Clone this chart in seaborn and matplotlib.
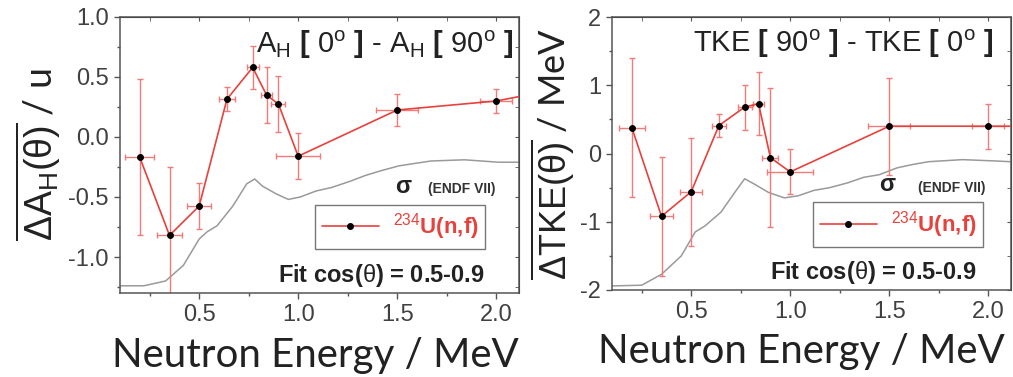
import numpy as np
import pandas as pd
import seaborn as sns
import matplotlib.pyplot as plt
from matplotlib.lines import Line2D
from matplotlib.ticker import MultipleLocator

# --- data ---
# left panel: mass difference A_H[0] - A_H[90]
e_mass = [0.2, 0.35, 0.5, 0.64, 0.77, 0.84, 0.9, 1.0, 1.5, 2.0, 2.25]
e_mass_err = [0.073, 0.065, 0.06, 0.04, 0.03, 0.03, 0.035, 0.11, 0.105, 0.08, 0.1]
d_mass = [-0.17, -0.82, -0.575, 0.315, 0.58, 0.35, 0.275, -0.16, 0.225, 0.30, 0.38]
d_mass_err = [0.65, 0.57, 0.19, 0.10, 0.18, 0.23, 0.23, 0.19, 0.13, 0.10, 0.10]

# right panel: TKE[90] - TKE[0]
e_tke = [0.2, 0.35, 0.5, 0.64, 0.77, 0.84, 0.9, 1.0, 1.5, 2.0, 2.25]
e_tke_err = [0.067, 0.06, 0.055, 0.035, 0.035, 0.03, 0.04, 0.117, 0.105, 0.08, 0.1]
d_tke = [0.38, -0.92, -0.56, 0.41, 0.68, 0.73, -0.06, -0.27, 0.40, 0.40, 0.40]
d_tke_err = [1.02, 0.87, 0.79, 0.17, 0.33, 0.46, 1.02, 0.33, 0.71, 0.33, 0.33]

# ENDF/B-VII cross section shape (arbitrary scale, drawn in each panel's units)
endf_x_l = [0.1, 0.22, 0.33, 0.42, 0.5, 0.54, 0.59, 0.67, 0.74, 0.78, 0.82, 0.89,
            0.95, 1.01, 1.09, 1.17, 1.26, 1.34, 1.42, 1.51, 1.59, 1.67, 1.84, 2.01, 2.12]
endf_y_l = [-1.24, -1.24, -1.2, -1.07, -0.85, -0.79, -0.74, -0.575, -0.39, -0.35, -0.41, -0.475,
            -0.52, -0.5, -0.45, -0.42, -0.37, -0.32, -0.28, -0.24, -0.22, -0.2, -0.19, -0.21, -0.21]
endf_x_r = [0.1, 0.25, 0.35, 0.45, 0.52, 0.57, 0.65, 0.72, 0.77, 0.82, 0.89, 0.97,
            1.04, 1.12, 1.2, 1.29, 1.37, 1.45, 1.54, 1.62, 1.7, 1.87, 2.04, 2.11]
endf_y_r = [-1.94, -1.93, -1.77, -1.5, -1.15, -1.06, -0.86, -0.57, -0.37, -0.45, -0.57, -0.65,
            -0.62, -0.54, -0.5, -0.43, -0.35, -0.31, -0.21, -0.16, -0.12, -0.09, -0.11, -0.12]

line_red = "#e8413c"
err_red = "#f27b78"

sns.set_style("ticks")
plt.rcParams["font.family"] = ["Liberation Sans", "DejaVu Sans"]
plt.rcParams["mathtext.fontset"] = "custom"
plt.rcParams["mathtext.rm"] = "Liberation Sans"
plt.rcParams["mathtext.it"] = "Liberation Sans:italic"
plt.rcParams["mathtext.bf"] = "Liberation Sans:bold"

fig = plt.figure(figsize=(10.13, 3.77), dpi=100)
ax1 = fig.add_axes([120 / 1013, 84 / 377, 399 / 1013, 276 / 377])
ax2 = fig.add_axes([612 / 1013, 87 / 377, 399 / 1013, 273 / 377])


def draw_panel(ax, ex, exerr, dy, dyerr, gx, gy):
    sns.lineplot(x=gx, y=gy, ax=ax, color="#9a9a9a", lw=1.1, sort=False,
                 estimator=None, zorder=1)
    ax.errorbar(ex, dy, xerr=exerr, yerr=dyerr, fmt="none", ecolor=err_red,
                elinewidth=1.0, capsize=2, capthick=1, zorder=2)
    sns.lineplot(x=ex, y=dy, ax=ax, color=line_red, lw=1.2, sort=False,
                 estimator=None, marker="o", markersize=4.2, markerfacecolor="black",
                 markeredgecolor="black", zorder=3)
    ax.set_xlim(0.1, 2.115)
    ax.xaxis.set_major_locator(MultipleLocator(0.5))
    ax.xaxis.set_minor_locator(MultipleLocator(0.25))
    ax.tick_params(which="both", direction="out", color="#555555",
                   labelsize=17, labelcolor="#404040", pad=4)
    ax.tick_params(which="major", length=4, width=1)
    ax.tick_params(which="minor", length=2.5, width=1)
    for sp in ax.spines.values():
        sp.set_color("#555555")
        sp.set_linewidth(1.1)
    sec = ax.secondary_xaxis("top")
    sec.xaxis.set_major_locator(MultipleLocator(0.5))
    sec.xaxis.set_minor_locator(MultipleLocator(0.25))
    sec.tick_params(which="both", direction="in", labeltop=False, color="#555555", length=3)
    secy = ax.secondary_yaxis("right")
    secy.tick_params(which="both", direction="in", labelright=False, color="#555555", length=3)
    return secy


secy1 = draw_panel(ax1, e_mass, e_mass_err, d_mass, d_mass_err, endf_x_l, endf_y_l)
ax1.set_ylim(-1.3, 1.0)
ax1.yaxis.set_major_locator(MultipleLocator(0.5))
ax1.yaxis.set_minor_locator(MultipleLocator(0.25))
ax1.yaxis.set_major_formatter(lambda v, p: f"{v:.1f}")
secy1.yaxis.set_major_locator(MultipleLocator(0.5))
secy1.yaxis.set_minor_locator(MultipleLocator(0.25))

secy2 = draw_panel(ax2, e_tke, e_tke_err, d_tke, d_tke_err, endf_x_r, endf_y_r)
ax2.set_ylim(-2, 2)
ax2.yaxis.set_major_locator(MultipleLocator(1))
ax2.yaxis.set_minor_locator(MultipleLocator(0.5))
ax2.yaxis.set_major_formatter(lambda v, p: f"{v:.0f}")
secy2.yaxis.set_major_locator(MultipleLocator(1))
secy2.yaxis.set_minor_locator(MultipleLocator(0.5))

# axis labels
ax1.set_xlabel("Neutron Energy / MeV", fontsize=29, family="Lato", color="#222222")
ax1.xaxis.set_label_coords(0.489, -0.268)
ax1.xaxis.label.set_verticalalignment("baseline")
ax2.set_xlabel("Neutron Energy / MeV", fontsize=29, family="Lato", color="#222222")
ax2.xaxis.set_label_coords(0.475, -0.267)
ax2.xaxis.label.set_verticalalignment("baseline")
ax1.set_ylabel(r"$\overline{\Delta \mathrm{A}_{\rm H}\mathrm{(θ)}}$ / u", fontsize=27, family="Lato",
               color="#222222", labelpad=4)
ax2.set_ylabel(r"$\overline{\Delta \mathrm{TKE}\mathrm{(θ)}}$ / MeV", fontsize=26, family="Lato",
               color="#222222", labelpad=2)

# annotations inside the panels
ax1.text(0.985, 0.90, r"A$_{\rm H}$ $\mathbf{[}$ 0$^{\rm o}$ $\mathbf{]}$ - A$_{\rm H}$ $\mathbf{[}$ 90$^{\rm o}$ $\mathbf{]}$",
         transform=ax1.transAxes, ha="right", va="center", fontsize=21, color="#222222")
ax2.text(0.955, 0.90, r"TKE $\mathbf{[}$ 90$^{\rm o}$ $\mathbf{]}$ - TKE $\mathbf{[}$ 0$^{\rm o}$ $\mathbf{]}$",
         transform=ax2.transAxes, ha="right", va="center", fontsize=21, color="#222222")

for ax, sig_x, endf_x, leg_x in [(ax1, 0.71, 0.94, 0.915), (ax2, 0.69, 0.935, 0.93)]:
    ax.text(sig_x, 0.385, "σ", transform=ax.transAxes, ha="center", va="center",
            fontsize=17, fontweight="bold", color="#222222")
    ax.text(endf_x, 0.375, "(ENDF VII)", transform=ax.transAxes, ha="right", va="center",
            fontsize=10, fontweight="bold", color="#333333")
    ax.text(0.915, 0.065, r"Fit cos($\mathrm{θ}$) = 0.5-0.9", transform=ax.transAxes, ha="right",
            va="center", fontsize=17, fontweight="bold", color="#222222")
    handle = Line2D([], [], color=line_red, lw=1.2, marker="o", markersize=4,
                    markerfacecolor="black", markeredgecolor="black")
    ax.legend([handle], [r"$^{234}$U(n,f)"], loc="center right",
              bbox_to_anchor=(leg_x, 0.24), borderaxespad=0, frameon=True, fancybox=False,
              edgecolor="#777777", framealpha=1, handlelength=2.6,
              prop={"weight": "bold", "size": 16}, labelcolor=line_red,
              borderpad=0.3, handletextpad=0.6)

fig.savefig("out.png", dpi=100)
